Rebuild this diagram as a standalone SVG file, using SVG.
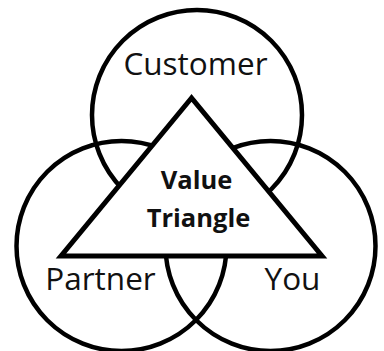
<svg xmlns="http://www.w3.org/2000/svg" width="384" height="351" viewBox="0 0 384 351">
  <style>
    .ring { fill: none; stroke: #000; stroke-width: 4.5; }
    .tri { fill: #fff; stroke: #000; stroke-width: 5; stroke-linejoin: miter; }
    .label { font-family: "Open Sans", "Liberation Sans", sans-serif; font-size: 31.5px; fill: #111; text-anchor: middle; }
    .core { font-family: "Open Sans", "Liberation Sans", sans-serif; font-size: 25.5px; font-weight: bold; fill: #111; text-anchor: middle; }
  </style>
  <rect width="384" height="351" fill="#fff"/>
  <!-- three overlapping circles -->
  <g id="customer">
    <circle class="ring" cx="197" cy="115" r="105"/>
    <text class="label" x="195.5" y="75">Customer</text>
  </g>
  <g id="partner">
    <circle class="ring" cx="121.5" cy="246" r="105"/>
    <text class="label" x="100.5" y="290">Partner</text>
  </g>
  <g id="you">
    <circle class="ring" cx="270.5" cy="246" r="105"/>
    <text class="label" x="292.5" y="290">You</text>
  </g>
  <!-- central triangle drawn over the circles -->
  <g id="value-triangle">
    <polygon class="tri" points="191.5,98 61,256 322,256"/>
    <text class="core" x="196.5" y="189">Value</text>
    <text class="core" x="198.5" y="227">Triangle</text>
  </g>
</svg>
